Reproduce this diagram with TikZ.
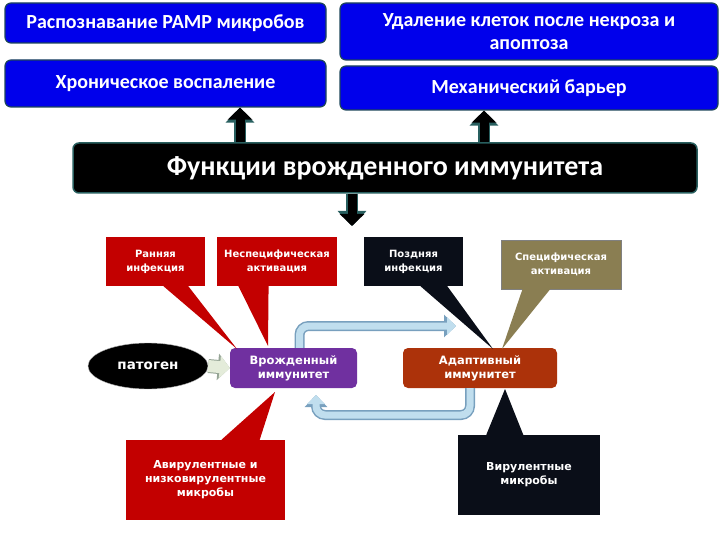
\documentclass[tikz,border=0pt]{standalone}
\usepackage{fontspec}
\setmainfont{Carlito}
\newfontfamily\djfont{DejaVu Sans}
\usetikzlibrary{arrows.meta,shapes.geometric,calc}

\definecolor{boxblue}{RGB}{0,0,235}
\definecolor{boxedge}{RGB}{30,70,90}
\definecolor{fnedge}{RGB}{40,95,95}
\definecolor{calred}{RGB}{195,0,0}
\definecolor{caldark}{RGB}{10,14,24}
\definecolor{calolive}{RGB}{138,126,82}
\definecolor{innpurple}{RGB}{112,48,160}
\definecolor{adbrown}{RGB}{172,50,10}
\definecolor{cycfill}{RGB}{192,222,238}
\definecolor{cycedge}{RGB}{120,160,190}
\definecolor{patfill}{RGB}{228,236,218}
\definecolor{patedge}{RGB}{150,165,150}

\begin{document}
\begin{tikzpicture}[
    x=1pt,y=-1pt,
    func/.style={draw=boxedge,line width=1.2pt,fill=boxblue,rounded corners=6pt,
        text=white,font=\bfseries\fontsize{20}{23}\selectfont,align=center,inner sep=2pt},
    callbox/.style={text=white,font=\djfont\bfseries\fontsize{#1}{14}\selectfont,
        align=center,inner sep=2pt},
    callbox/.default=10,
    immbox/.style={rounded corners=5pt,text=white,align=center,
        font=\djfont\bfseries\fontsize{11.5}{14}\selectfont,
        minimum width=#1,minimum height=40pt},
    blockarr/.style={line width=9pt,black,-{Triangle[width=24pt,length=12pt]},
        preaction={draw=fnedge,line width=12pt,-{Triangle[width=28pt,length=15pt]}}},
    cyclearr/.style={rounded corners=9pt,line width=10pt,draw=cycedge,
        -{Triangle[width=22pt,length=12pt]},
        postaction={draw=cycfill,line width=7pt,-{Triangle[width=17pt,length=9pt]}}},
]
\useasboundingbox (0,0) rectangle (720,540);

% top functions
\node[func,minimum width=321pt,minimum height=40pt] (pamp) at (165.5,23)
    {Распознавание PAMP микробов};
\node[func,minimum width=378pt,minimum height=57pt] (apopt) at (529,31.5)
    {Удаление клеток после некроза и\\апоптоза};
\node[func,minimum width=321pt,minimum height=47pt] (chronic) at (165.5,83.5)
    {Хроническое воспаление};
\node[func,minimum width=378pt,minimum height=44pt] (barrier) at (529,88)
    {Механический барьер};

% main box
\node[draw=fnedge,line width=1.5pt,fill=black,rounded corners=6pt,
    minimum width=624pt,minimum height=50pt,text=white,
    font=\bfseries\fontsize{28}{31}\selectfont] (fn) at (385,168)
    {Функции врожденного иммунитета};

\draw[blockarr] ([xshift=-145pt]fn.north) -- ([xshift=-145pt]fn.north |- chronic.south);
\draw[blockarr] ([xshift=99pt]fn.north) -- ([xshift=99pt]fn.north |- barrier.south);
\coordinate (down) at (352,226);
\draw[blockarr] ([xshift=-33pt]fn.south) -- (down);

% callouts
\node[callbox,fill=calred,minimum width=99pt,minimum height=49pt] (early) at (155.5,261.5)
    {Ранняя\\инфекция};
\node[callbox,fill=calred,minimum width=120pt,minimum height=49pt] (nonspec) at (277,261.5)
    {Неспецифическая\\активация};
\node[callbox,fill=caldark,minimum width=99pt,minimum height=49pt] (late) at (413.5,261.5)
    {Поздняя\\инфекция};
\node[callbox,fill=calolive,draw=gray,minimum width=120pt,minimum height=49pt] (spec) at (561,264.5)
    {Специфическая\\активация};
\node[callbox=11,fill=calred,minimum width=159pt,minimum height=80pt] (avir) at (205.5,480)
    {Авирулентные и\\низковирулентные\\микробы};
\node[callbox=11,fill=caldark,minimum width=142pt,minimum height=80pt] (vir) at (529,475)
    {Вирулентные\\микробы};

% immune cells
\node[ellipse,fill=black,draw=gray!60,minimum width=120pt,minimum height=46pt,
    text=white,font=\djfont\bfseries\fontsize{13.5}{15}\selectfont] (pat) at (148,366) {патоген};
\node[immbox=127pt,fill=innpurple] (innate) at (293.5,368) {Врожденный\\иммунитет};
\node[immbox=154pt,fill=adbrown] (adapt) at (480,368) {Адаптивный\\иммунитет};

% pointers
\coordinate (tEarly) at (237,349);
\coordinate (tNon) at (268,346);
\coordinate (tLate) at (493,349);
\coordinate (tSpec) at (502,349);
\coordinate (tAvir) at (275,392);
\coordinate (tVir) at (505,389);
\fill[calred] ($(early.south west)!0.58!(early.south east)$) -- (tEarly)
    -- ($(early.south west)!0.83!(early.south east)$) -- cycle;
\fill[calred] ($(nonspec.south west)!0.18!(nonspec.south east)$) -- (tNon)
    -- ($(nonspec.south west)!0.43!(nonspec.south east)$) -- cycle;
\fill[caldark] ($(late.south west)!0.57!(late.south east)$) -- (tLate)
    -- ($(late.south west)!0.84!(late.south east)$) -- cycle;
\fill[calolive] ($(spec.south west)!0.18!(spec.south east)$) -- (tSpec)
    -- ($(spec.south west)!0.41!(spec.south east)$) -- cycle;
\fill[calred] ($(avir.north west)!0.6!(avir.north east)$) -- (tAvir)
    -- ($(avir.north west)!0.84!(avir.north east)$) -- cycle;
\fill[caldark] ($(vir.north west)!0.2!(vir.north east)$) -- (tVir)
    -- ($(vir.north west)!0.46!(vir.north east)$) -- cycle;

% pathogen arrow
\draw[line width=14pt,draw=patedge,-{Triangle[width=26pt,length=12pt]},
    postaction={draw=patfill,line width=12pt,-{Triangle[width=22pt,length=10pt]}}]
    (pat.east) -- (innate.west);

% cycle arrows
\coordinate (upEnd) at (456,326);
\coordinate (lowEnd) at (316,395);
\draw[cyclearr] ([xshift=6pt]innate.north) |- (upEnd);
\draw[cyclearr] ([xshift=-10pt]adapt.south) |- (316,415) -- (lowEnd);
\end{tikzpicture}
\end{document}
